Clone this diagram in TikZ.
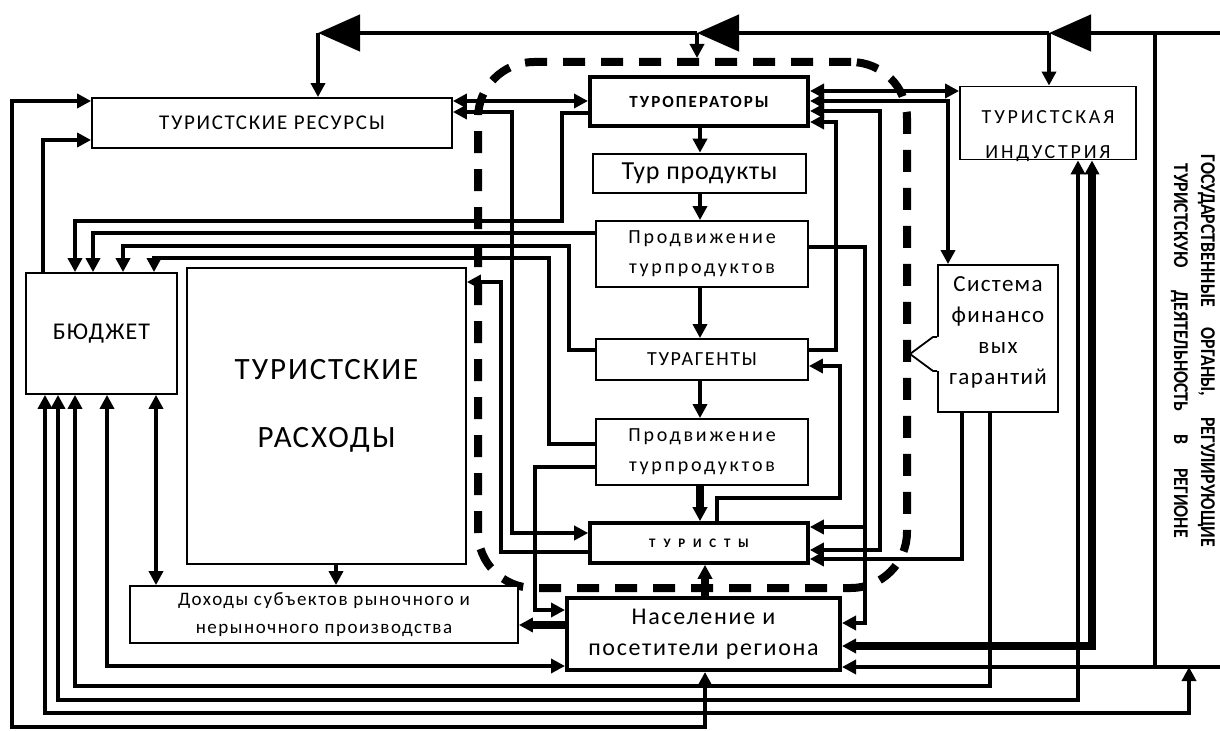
\documentclass[tikz,border=0pt]{standalone}
\usepackage{fontspec}
\setmainfont{Carlito}
\newfontfamily\narrowfont[FakeStretch=0.85]{Carlito}
\newcommand\fsz[2]{\fontsize{#1}{#2}\selectfont}
\usetikzlibrary{arrows.meta}

\tikzset{
  box/.style={draw, line width=0.9pt, fill=white, inner sep=0pt, align=center},
  heavy box/.style={box, line width=2pt},
  link/.style={line width=2.3pt},
  fat link/.style={line width=3.8pt},
  arr/.style={-{Triangle[length=7pt,width=7pt]}},
  arrboth/.style={{Triangle[length=7pt,width=7pt]}-{Triangle[length=7pt,width=7pt]}},
  big/.style={-{Triangle[length=21pt,width=18pt]}},
  cluster/.style={draw, line width=4pt, dash pattern=on 11pt off 8pt, rounded corners=28pt}
}

\begin{document}
\begin{tikzpicture}[x=0.5pt,y=-0.5pt]
\useasboundingbox (0,0) rectangle (1220,731);

% tourism cluster
\node (clu) [cluster, minimum width=214.5pt, minimum height=263pt] at (692.5,325) {};

% boxes
\node (res) [box, minimum width=180pt, minimum height=25pt, font=\fsz{10.5}{12}\addfontfeature{LetterSpace=8}] at (272,123) {ТУРИСТСКИЕ РЕСУРСЫ};
\node (top) [heavy box, minimum width=109pt, minimum height=24.5pt, font=\bfseries\fsz{8.5}{10}\addfontfeature{LetterSpace=12}] at (699,101.5) {ТУРОПЕРАТОРЫ};
\node (prod) [box, line width=1.3pt, minimum width=106.5pt, minimum height=19.5pt, font=\fsz{13}{14}\addfontfeature{LetterSpace=3}] at (699.5,173.5) {Тур продукты};
\node (prom1) [box, minimum width=106pt, minimum height=33pt, font=\fsz{10}{15}\addfontfeature{LetterSpace=14}] at (702,254) {Продвижение\\турпродуктов};
\node (agent) [box, minimum width=106pt, minimum height=20.5pt, font=\fsz{10}{12}\addfontfeature{LetterSpace=8}] at (702,359.5) {ТУРАГЕНТЫ};
\node (prom2) [box, minimum width=106pt, minimum height=33pt, font=\fsz{10}{15}\addfontfeature{LetterSpace=14}] at (702,452) {Продвижение\\турпродуктов};
\node (tour) [heavy box, line width=1.8pt, minimum width=109pt, minimum height=20pt, font=\bfseries\fsz{6.5}{8}\addfontfeature{LetterSpace=60}] at (699,543) {ТУРИСТЫ};
\node (pop) [heavy box, minimum width=136.5pt, minimum height=36pt, font=\fsz{12}{15.5}\addfontfeature{LetterSpace=7}] at (703.5,634) {Население и\\посетители региона};
\node (inc) [box, minimum width=194pt, minimum height=28.5pt, font=\fsz{9.5}{14}\addfontfeature{LetterSpace=8}] at (324,614.5) {Доходы субъектов рыночного и\\нерыночного производства};
\node (bud) [box, minimum width=75.5pt, minimum height=60.5pt, font=\fsz{12}{14}\addfontfeature{LetterSpace=5}] at (101.5,333.5) {БЮДЖЕТ};
\node (exp) [box, minimum width=139.5pt, minimum height=148pt, text height=45pt, text depth=13.5pt, font=\fsz{15.5}{34}\addfontfeature{LetterSpace=6}] at (326.5,416) {ТУРИСТСКИЕ\\РАСХОДЫ};
\node (ind) [box, minimum width=88pt, minimum height=35pt, text height=36pt, text depth=0.5pt, font=\fsz{10}{17.5}\addfontfeature{LetterSpace=14}] at (1048,123) {ТУРИСТСКАЯ\\ИНДУСТРИЯ};
\node (fin) [box, minimum width=60pt, minimum height=73.5pt, text height=55pt, text depth=9pt, font=\fsz{11.5}{15.5}\addfontfeature{LetterSpace=6}] at (998,338.5) {Система\\финансо\\вых\\гарантий};
\node (gov) [rotate=-90, align=center, font=\narrowfont\bfseries\fsz{10.5}{13.5}] at (1193,351)
  {\makebox[196pt][s]{ГОСУДАРСТВЕННЫЕ ОРГАНЫ, РЕГУЛИРУЮЩИЕ}\\\makebox[187pt][s]{ТУРИСТСКУЮ ДЕЯТЕЛЬНОСТЬ В РЕГИОНЕ}};

% hollow arrow of the guarantee system
\fill[white] (933,337) -- (910,354) -- (933,371) -- (939.5,371) -- (939.5,337) -- cycle;
\draw[line width=0.9pt] (fin.west |- 0,337) -- (933,337) -- (910,354) -- (933,371) -- (fin.west |- 0,371);

% government bus
\draw[link,big] (1220,33) -- (1049,33);
\draw[link,big] (1049,33) -- (697,33);
\draw[link,big] (697,33) -- (318,33);
\draw[link,arr] (318,33) -- (res.north -| 318,0);
\draw[link,arr] (697,33) -- (clu.north -| 697,0);
\draw[link,arr] (1049,33) -- (ind.north -| 1049,0);
\draw[link] (1155,33) -- (1155,667);
\coordinate (gv) at (1189,667);
\draw[link,arr] (1220,667) -- (pop.east |- 0,667);

% chain of the cluster
\foreach \a/\b in {top/prod, prod/prom1, prom1/agent, agent/prom2}
  \draw[link,arr] (\a.south -| 700,0) -- (\b.north -| 700,0);
\draw[fat link,arr] (prom2.south -| 700,0) -- (tour.north -| 700,0);
\draw[fat link,arr] (pop.north -| 705,0) -- (tour.south -| 705,0);

% to the budget (top)
\draw[link,arr] (top.west |- 0,113) -| (562,221) -| (bud.north -| 75,0);
\draw[link,arr] (prom1.west |- 0,233) -| (bud.north -| 93,0);
\draw[link,arr] (agent.west |- 0,350) -| (569,246) -| (bud.north -| 123,0);
\draw[link,arr] (prom2.west |- 0,444) -| (549,258) -| (bud.north -| 154,0);
\draw[link,arr] (bud.north -| 43,0) |- (res.west |- 0,140);

% left of the cluster
\draw[link,arrboth] (res.east |- 0,101) -- (top.west |- 0,101);
\draw[link,arrboth] (res.east |- 0,112) -| (512,533) -- (tour.west |- 0,533);
\draw[link,arr] (tour.west |- 0,552) -| (501,282) -- (exp.east |- 0,282);
\draw[link,arr] (prom2.west |- 0,467) -| (535,610) -- (pop.west |- 0,610);
\draw[link,arr] (exp.south -| 336,0) -- (inc.north -| 336,0);
\draw[fat link,arr] (pop.west |- 0,625) -- (inc.east |- 0,625);

% right of the cluster
\draw[link,arrboth] (top.east |- 0,91) -- (ind.west |- 0,91);
\draw[link,arrboth] (top.east |- 0,101) -| (fin.north -| 948,0);
\draw[link,arrboth] (top.east |- 0,111) -| (880,550) -- (tour.east |- 0,550);
\draw[link,arr] (agent.east |- 0,350) -| (836,122) -- (top.east |- 0,122);
\draw[link,arr] (tour.north -| 717,0) |- (840,498) |- (agent.east |- 0,366);
\draw[link,arr] (prom1.east |- 0,247) -| (865,623) -- (pop.east |- 0,623);
\draw[link,arr] (865,527) -- (tour.east |- 0,527);
\draw[link,arr] (fin.south -| 962,0) |- (tour.east |- 0,559);
\draw[fat link,arrboth] (ind.south -| 1092,0) |- (pop.east |- 0,646);

% bottom loops to the budget
\draw[link,arrboth] (bud.south -| 156,0) -- (inc.north -| 156,0);
\draw[link,arrboth] (bud.south -| 107,0) |- (pop.west |- 0,666);
\draw[link,arr] (fin.south -| 990,0) -- (990,686) -| (bud.south -| 75,0);
\draw[link,arrboth] (ind.south -| 1078,0) -- (1078,700) -| (bud.south -| 58,0);
\draw[link,arrboth] (gv) -- (1189,713) -| (bud.south -| 45,0);
\draw[link,arrboth] (pop.south -| 705,0) |- (12,727) |- (res.west |- 0,101);
\end{tikzpicture}
\end{document}
